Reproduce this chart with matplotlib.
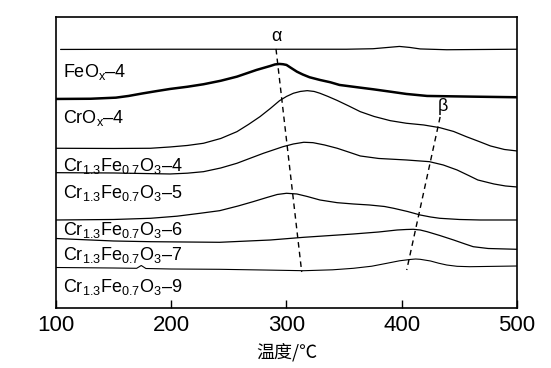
import matplotlib
matplotlib.use("Agg")
import matplotlib.pyplot as plt

plt.rcParams['font.family'] = ['Liberation Sans', 'DejaVu Sans']
plt.rcParams['mathtext.fontset'] = 'custom'
plt.rcParams['mathtext.rm'] = 'Liberation Sans'
plt.rcParams['mathtext.it'] = 'Liberation Sans'

# traces: temperature (degC) vs. stacked intensity (a.u., offset;
# the y axis is drawn inverted so that larger values sit lower)
T_1 = [104, 200, 300, 352, 375, 388, 398, 407, 416, 439, 500]
y_1 = [49.5, 49.3, 49.3, 49.3, 48.8, 47.5, 46.5, 47.5, 49.0, 49.8, 49.3]

T_2 = [100, 130, 152, 163, 175, 187, 199, 214, 228, 243, 257, 274, 286, 290, 294, 297, 300,
       304, 309, 314, 320, 329, 338, 346, 364, 375, 390, 404, 422, 462, 500]
y_2 = [99, 98.8, 97.7, 96, 93.5, 91.2, 89, 86.8, 84.3, 80.8, 76.7, 70, 66, 64.5, 64, 64.3, 65,
       68, 71.7, 74.5, 77.3, 80, 82.3, 85, 87.7, 89.3, 91.7, 94, 96, 96.7, 97.3]

T_3 = [100, 150, 182, 199, 214, 228, 243, 257, 267, 277, 286, 294, 300, 306, 312, 318, 324,
       329, 336, 344, 354, 364, 376, 390, 404, 419, 433, 445, 456, 467, 477, 489, 500]
y_3 = [148.3, 148.5, 148.3, 147, 145.5, 143.3, 138.5, 131.7, 124.5, 116.7, 108.5, 100.7, 96.5,
       93.3, 91.5, 90.7, 91.5, 93.3, 96.5, 100.5, 106, 111.7, 116.5, 120.7, 123.3, 125, 127.7,
       131.5, 136.7, 141.5, 146, 149.5, 151]

T_4 = [100, 150, 199, 214, 228, 243, 257, 268, 280, 297, 306, 315, 323, 333, 344, 355, 364,
       380, 404, 424, 436, 448, 458, 466, 480, 490, 500]
y_4 = [172.7, 173, 174, 173.2, 171.7, 168, 163.3, 158.5, 153.3, 146.7, 144, 142.3, 142.7, 145,
       148.3, 152.5, 156, 158.5, 160, 161.7, 165, 170, 175.5, 180, 184, 186, 187]

T_5 = [100, 150, 182, 205, 225, 242, 258, 271, 283, 292, 300, 309, 318, 329, 344, 358, 372,
       385, 393, 405, 416, 425, 433, 450, 468, 500]
y_5 = [220, 219.5, 218.3, 216.2, 213.3, 210.7, 206, 201.7, 197.5, 194.5, 193.3, 194, 196.5,
       200, 202.7, 204, 205, 206.5, 208.3, 211.5, 215, 217, 218.3, 219.5, 220, 220]

T_6 = [100, 150, 182, 242, 286, 315, 358, 380, 396, 404, 410, 416, 422, 433, 445, 455, 462,
       475, 500]
y_6 = [238.5, 241, 241.7, 242.3, 240, 237.3, 234, 232, 230, 229.5, 229.3, 230, 231.7, 235.5,
       240, 244, 246.7, 248.5, 249.3]

T_7 = [100, 150, 170, 174, 178, 200, 242, 280, 315, 340, 358, 374, 387, 398, 407, 412, 416,
       425, 432, 439, 448, 459, 500]
y_7 = [267.5, 268, 268.3, 265.5, 268.5, 269, 269.3, 270, 270.7, 269.8, 268.3, 266.2, 263.3,
       260.8, 259.5, 259, 259.3, 261, 263.2, 265, 266.3, 266.7, 266]

T_list = [T_1, T_2, T_3, T_4, T_5, T_6, T_7]
y_list = [y_1, y_2, y_3, y_4, y_5, y_6, y_7]
widths = [0.9, 1.8, 0.9, 0.9, 0.9, 0.9, 0.8]

labels = [r'FeO$_{x}$–4', r'CrO$_{x}$–4',
          r'Cr$_{1.3}$Fe$_{0.7}$O$_{3}$–4', r'Cr$_{1.3}$Fe$_{0.7}$O$_{3}$–5',
          r'Cr$_{1.3}$Fe$_{0.7}$O$_{3}$–6', r'Cr$_{1.3}$Fe$_{0.7}$O$_{3}$–7',
          r'Cr$_{1.3}$Fe$_{0.7}$O$_{3}$–9']
label_y = [77, 123, 170.7, 198, 235, 260, 292]

# peak guide lines (alpha and beta)
alpha_T = [290.9, 313.2]
alpha_y = [49, 272]
beta_T = [433.3, 404.3]
beta_y = [117, 270]

fig = plt.figure(figsize=(5.51, 3.68), dpi=100)
ax = fig.add_axes([0.1016, 0.163, 0.8367, 0.791])

for T, y, lw in zip(T_list, y_list, widths):
    ax.plot(T, y, color='black', linewidth=lw, solid_joinstyle='round',
            solid_capstyle='round')

ax.plot(alpha_T, alpha_y, color='black', linewidth=1.0, dashes=(4, 3))
ax.plot(beta_T, beta_y, color='black', linewidth=1.0, dashes=(4, 3))

for lab, yl in zip(labels, label_y):
    ax.text(106, yl, lab, fontsize=13, va='baseline', ha='left')

ax.text(290.9, 37, 'α', fontsize=13, ha='center', va='center')
ax.text(436, 107, 'β', fontsize=13, ha='center', va='center')

ax.set_xlim(100, 500)
ax.set_ylim(308, 17)
ax.set_xticks([100, 200, 300, 400, 500])
ax.set_yticks([])
ax.tick_params(axis='x', direction='in', length=6, width=1.0, pad=5, top=False)
for t in ax.get_xticklabels():
    t.set_fontsize(16)
for s in ax.spines.values():
    s.set_linewidth(1.2)

ax.set_xlabel('温度/℃', fontsize=13, family=['Noto Sans CJK SC', 'DejaVu Sans'], labelpad=5)

fig.savefig('out.png', dpi=100)
